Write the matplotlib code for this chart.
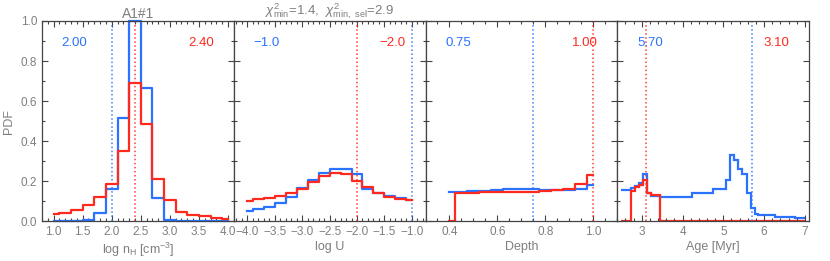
import numpy as np
import matplotlib
matplotlib.use("Agg")
import matplotlib.pyplot as plt
from matplotlib.ticker import MultipleLocator

# ---------- dados ----------
# painel 1: log nH
nh_grid = np.arange(1.0, 4.01, 0.2)
nh_blue = [0, 0, 0, 0.005, 0.04, 0.16, 0.515, 1.0, 0.665, 0.115, 0.005, 0, 0, 0, 0, 0]
nh_red = [0.035, 0.04, 0.055, 0.08, 0.12, 0.185, 0.35, 0.69, 0.485, 0.21,
          0.105, 0.045, 0.03, 0.025, 0.015, 0.01]

# painel 2: log U
u_grid = np.arange(-4.0, -0.99, 0.2)
u_blue = [0.051, 0.058, 0.068, 0.088, 0.121, 0.166, 0.204, 0.242, 0.262, 0.262,
          0.237, 0.158, 0.138, 0.124, 0.113, 0.104]
u_red = [0.101, 0.108, 0.116, 0.124, 0.138, 0.159, 0.196, 0.226, 0.242, 0.234,
         0.199, 0.168, 0.141, 0.121, 0.111, 0.103]

# painel 3: Depth
d_grid = np.arange(0.40, 1.001, 0.05)
d_blue = [0.143, 0.145, 0.148, 0.151, 0.156, 0.159, 0.159, 0.158, 0.156, 0.154,
          0.156, 0.158, 0.18]
d_red = [0.0, 0.141, 0.141, 0.143, 0.143, 0.145, 0.145, 0.146, 0.148, 0.153,
         0.161, 0.184, 0.229]

# painel 4: Age (bins irregulares)
age_edges = [2.5, 2.74, 2.84, 2.94, 3.02, 3.14, 3.23, 3.45, 4.24, 4.75, 5.06, 5.16,
             5.26, 5.36, 5.47, 5.57, 5.67, 5.77, 5.86, 6.26, 6.75, 7.0]
age_blue = [0.155, 0.163, 0.175, 0.19, 0.237, 0.141, 0.126, 0.121, 0.141, 0.159,
            0.207, 0.332, 0.303, 0.262, 0.234, 0.138, 0.063, 0.033, 0.03, 0.022, 0.015]
age_red = [0.0, 0.151, 0.171, 0.179, 0.204, 0.141, 0.128, 0, 0, 0, 0, 0, 0, 0,
           0, 0, 0, 0, 0, 0, 0]

# melhores valores (linhas pontilhadas)
best_blue = [2.00, -1.0, 0.75, 5.70]
best_red = [2.40, -2.0, 1.00, 3.10]
best_blue_txt = ["2.00", "\u22121.0", "0.75", "5.70"]
best_red_txt = ["2.40", "\u22122.0", "1.00", "3.10"]

xlabels = [r"log n$_{\rm H}$ [cm$^{-3}$]", "log U", "Depth", "Age [Myr]"]
xlims = [(0.8, 4.1), (-4.25, -0.75), (0.3, 1.1), (2.4, 7.1)]
xmajor = [0.5, 0.5, 0.2, 1.0]
xminor = [0.1, 0.1, 0.05, 0.2]

BLUE = "#2a72ff"
RED = "#ff2a1f"
GRAY = "#7f7f7f"
# ------------------------------------------

plt.rcParams["font.family"] = ["Liberation Sans", "DejaVu Sans"]
plt.rcParams["mathtext.fontset"] = "custom"
plt.rcParams["mathtext.rm"] = "Liberation Sans"
plt.rcParams["mathtext.it"] = "Liberation Sans:italic"

fig = plt.figure(figsize=(8.3, 2.61), dpi=100)
gs = fig.add_gridspec(1, 4, left=42/830, right=809/830, bottom=1-221/261,
                      top=1-21/261, wspace=0)
axes = [fig.add_subplot(gs[0, i]) for i in range(4)]

for i, ax in enumerate(axes):
    ax.set_xlim(*xlims[i])
    ax.set_ylim(0, 1.0)
    ax.xaxis.set_major_locator(MultipleLocator(xmajor[i]))
    ax.xaxis.set_minor_locator(MultipleLocator(xminor[i]))
    ax.yaxis.set_major_locator(MultipleLocator(0.2))
    ax.yaxis.set_minor_locator(MultipleLocator(0.1))
    ax.tick_params(which="both", direction="in", top=True, right=True,
                   colors="#444444", labelcolor=GRAY, labelsize=8.5, width=0.8)
    ax.tick_params(which="major", length=4)
    ax.tick_params(which="minor", length=2.2)
    for sp in ax.spines.values():
        sp.set_color("#444444")
        sp.set_linewidth(0.9)
    ax.set_xlabel(xlabels[i], color=GRAY, fontsize=9, labelpad=2)
    if i > 0:
        ax.set_yticklabels([])

    ax.axvline(best_blue[i], color=BLUE, ls=":", lw=1.1, alpha=0.9)
    ax.axvline(best_red[i], color=RED, ls=":", lw=1.1, alpha=0.9)
    ax.text(0.17, 0.89, best_blue_txt[i], color=BLUE, fontsize=9.5,
            ha="center", va="center", transform=ax.transAxes)
    ax.text(0.83, 0.89, best_red_txt[i], color=RED, fontsize=9.5,
            ha="center", va="center", transform=ax.transAxes)

# histogramas
axes[0].step(nh_grid, nh_blue, where="mid", color=BLUE, lw=1.6, clip_on=False)
axes[0].step(nh_grid, nh_red, where="mid", color=RED, lw=1.6)
axes[1].step(u_grid, u_blue, where="mid", color=BLUE, lw=1.6)
axes[1].step(u_grid, u_red, where="mid", color=RED, lw=1.6)
axes[2].step(d_grid, d_blue, where="mid", color=BLUE, lw=1.6)
axes[2].step(d_grid, d_red, where="mid", color=RED, lw=1.6)
axes[3].stairs(age_blue, age_edges, baseline=None, color=BLUE, lw=1.6)
axes[3].stairs(age_red, age_edges, baseline=None, color=RED, lw=1.6)

axes[0].set_ylabel("PDF", color=GRAY, fontsize=9, labelpad=4)
axes[0].set_title("A1#1", color=GRAY, fontsize=10, pad=2)
axes[1].set_title(r"$\chi^2_{\rm min}$=1.4,  $\chi^2_{\rm min,\ sel}$=2.9",
                  color=GRAY, fontsize=9.5, pad=1)

fig.savefig("out.png", dpi=100)
